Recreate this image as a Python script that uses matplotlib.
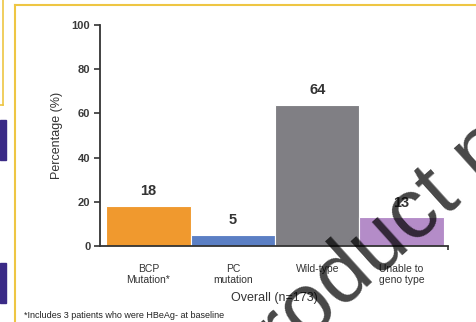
import matplotlib
matplotlib.use("Agg")
import matplotlib.pyplot as plt
from matplotlib.patches import Rectangle
from matplotlib.lines import Line2D

categories = ["BCP\nMutation*", "PC\nmutation", "Wild-type", "Unable to\ngeno type"]
values = [18, 5, 64, 13]
value_labels = ["18", "5", "64", "13"]
colors = ["#F0992E", "#5B7FC4", "#807F84", "#B48CC8"]
yticks = [0, 20, 40, 60, 80, 100]

plt.rcParams['font.family'] = ['Liberation Sans', 'DejaVu Sans']

fig = plt.figure(figsize=(4.77, 3.22), dpi=100)
W, H = 477, 322

# decorative frame
fig.add_artist(Line2D([15/W, 15/W], [0, 1-5/H], color="#EEC643", lw=1.5))
fig.add_artist(Line2D([15/W, 1], [1-5/H, 1-5/H], color="#EEC643", lw=1.5))
fig.add_artist(Line2D([3/W, 3/W], [1, 1-105/H], color="#EEC643", lw=1.2))
fig.add_artist(Line2D([0, 3/W], [1-105/H, 1-105/H], color="#EEC643", lw=1.2))
fig.add_artist(Rectangle((0, 1-160/H), 6/W, 40/H, color="#3A2A86", transform=fig.transFigure))
fig.add_artist(Rectangle((0, 1-303/H), 6/W, 40/H, color="#3A2A86", transform=fig.transFigure))

ax = fig.add_axes([100/W, 1-246/H, 348/W, 221/H])
x = list(range(len(categories)))
bars = ax.bar(x, values, width=1.0, color=colors, edgecolor="white", linewidth=0.8, zorder=2)
for xi, v, lab in zip(x, values, value_labels):
    ax.text(xi, v + 3.5, lab, ha="center", va="bottom", fontsize=10.5, fontweight="bold", color="#333333")

ax.set_xlim(-0.575, 3.55)
ax.set_ylim(0, 100)
ax.set_yticks(yticks)
ax.set_yticklabels([str(t) for t in yticks], fontsize=8, fontweight="bold", color="#3a3a3a")
ax.set_xticks(x)
ax.set_xticklabels(categories, fontsize=7.5, color="#333333", linespacing=1.15)
ax.set_xticks([3.55], minor=True)
ax.tick_params(axis="x", which="major", length=0, pad=13)
ax.tick_params(axis="x", which="minor", length=3, width=1.2, color="#333333")
ax.tick_params(axis="y", length=4, width=1.2, color="#333333", pad=3)
for s in ["top", "right"]:
    ax.spines[s].set_visible(False)
for s in ["left", "bottom"]:
    ax.spines[s].set_linewidth(1.3)
    ax.spines[s].set_color("#333333")
ax.set_ylabel("Percentage (%)", fontsize=9, color="#333333")
ax.yaxis.set_label_coords(-0.105, 0.5)

fig.text(274/W, 1-298/H, "Overall (n=173)", ha="center", va="center", fontsize=9, color="#333333")
fig.text(24/W, 1-315/H, "*Includes 3 patients who were HBeAg- at baseline", ha="left", va="center",
         fontsize=6.5, color="#222222")

# watermark
fig.text(249/W, 1-394/H, "product n", rotation=42, fontsize=62, color="black", alpha=0.72,
         ha="left", va="baseline", rotation_mode="anchor")

fig.savefig("out.png", dpi=100)
